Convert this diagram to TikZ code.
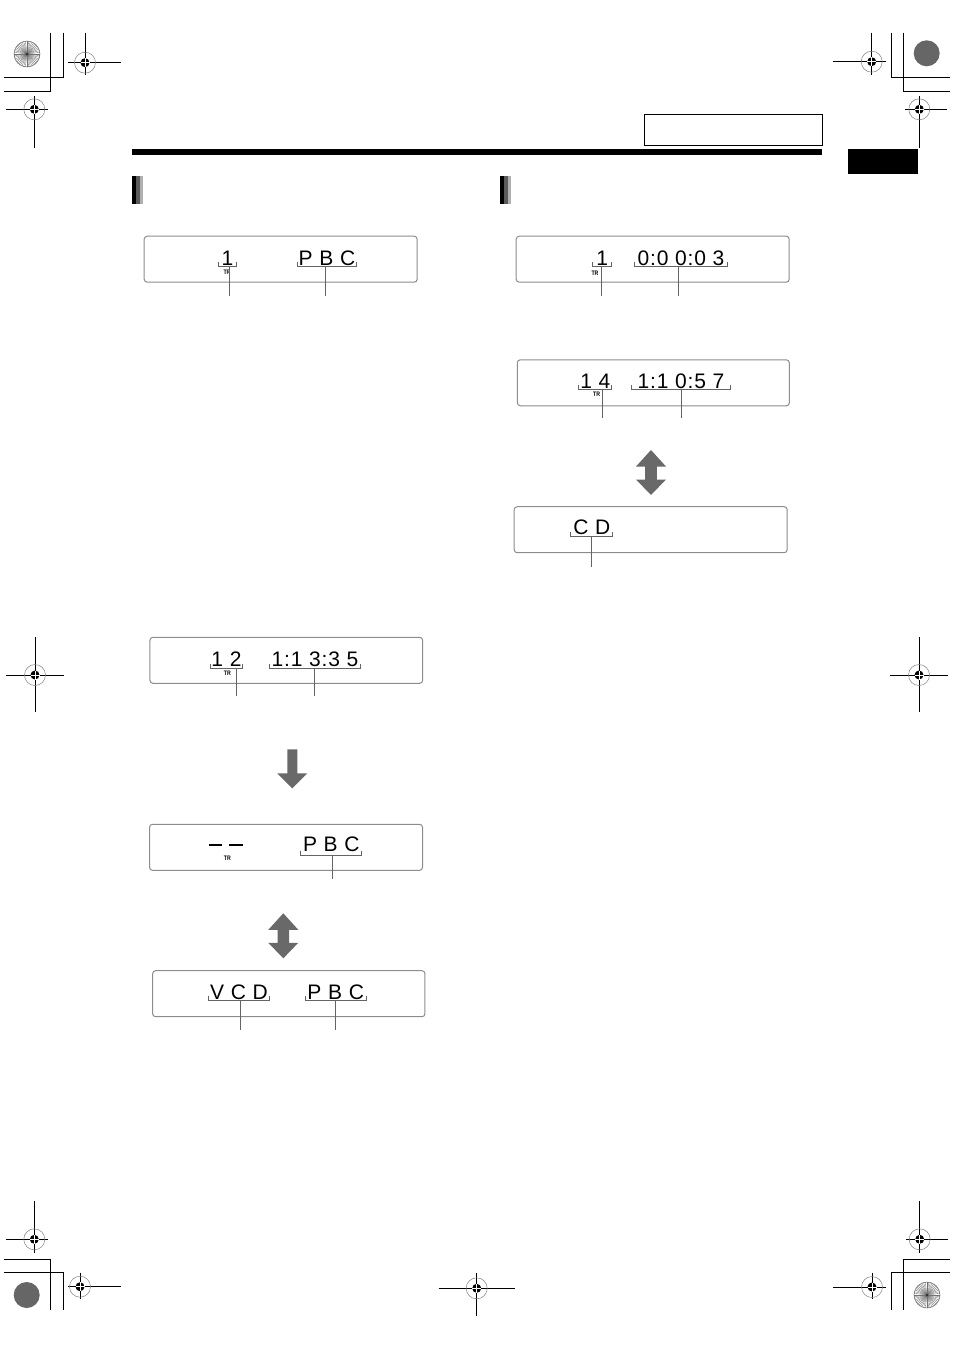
\documentclass[tikz,border=0pt]{standalone}
\usepackage{fontspec}
\usepackage{xcolor}
\usetikzlibrary{positioning}
\newfontfamily\lcdfont[LetterSpace=4]{Liberation Sans}
\newfontfamily\tagfont{Liberation Sans}
\definecolor{lcdframe}{RGB}{140,140,140}
\definecolor{brkgray}{RGB}{100,100,100}
\definecolor{arrowgray}{RGB}{105,105,105}
\definecolor{bargray}{RGB}{90,90,90}
\definecolor{barlight}{RGB}{175,175,175}

\begin{document}
\begin{tikzpicture}[x=1pt,y=-1pt,
        lcd/.style={rectangle,rounded corners=3pt,draw=lcdframe,line width=1pt,
          minimum width=273pt,minimum height=46pt,inner sep=0pt},
        seg/.style={font=\lcdfont\fontsize{21}{21}\selectfont,anchor=base,inner sep=0pt},
        tag/.style={font=\tagfont\bfseries\fontsize{6.5}{6.5}\selectfont,inner sep=0pt,xscale=0.8},
        brk/.style={draw=brkgray,line width=1pt},
        lead/.style={draw=brkgray,line width=0.9pt},
        bigarrow/.style={fill=arrowgray},
        reg/.style={line width=0.8pt}]
        \useasboundingbox (0,0) rectangle (954,1350);

        % printer marks
        \foreach \cx/\cy/\l/\r/\u/\d in {85/62.7/17/36/30/12, 34.3/109.3/28/14/13/39,
            871.7/61.7/39/14/29/13, 919.3/109.3/14/28/13/39, 35/675/29/29/38/37,
            919/675/29/29/38/37, 34.3/1239.3/28/14/38/14, 80/1286.7/12/41/14/12,
            919.7/1239.3/14/28/38/14, 872/1287/39/14/14/12, 476.7/1288.3/38/38/15/28} {
          \draw[reg] (\cx-\l,\cy) -- (\cx+\r,\cy);
          \draw[reg] (\cx,\cy-\u) -- (\cx,\cy+\d);
          \draw[gray,line width=0.5pt] (\cx,\cy) circle[radius=10.5];
          \fill (\cx,\cy) circle[radius=4.5];
          \draw[white,line width=0.5pt] (\cx-4.5,\cy) -- (\cx+4.5,\cy) (\cx,\cy-4.5) -- (\cx,\cy+4.5);
        }
        \draw[reg] (50.7,32.7) -- (50.7,91) -- (4,91);
        \draw[reg] (63,32.7) -- (63,77.3) -- (4,77.3);
        \draw[reg] (903.3,32.7) -- (903.3,91) -- (950,91);
        \draw[reg] (891,32.7) -- (891,77.3) -- (950,77.3);
        \draw[reg] (4,1259.3) -- (50.7,1259.3) -- (50.7,1310);
        \draw[reg] (4,1272) -- (63,1272) -- (63,1310);
        \draw[reg] (950,1259.3) -- (903.3,1259.3) -- (903.3,1310);
        \draw[reg] (950,1272) -- (891,1272) -- (891,1310);
        \foreach \cx/\cy in {27/54, 927/1295} {
          \foreach \a in {0,7.5,...,352.5}
            \draw[black!55,line width=0.35pt] (\cx,\cy) -- ++(\a:13);
          \draw[black!60,line width=0.5pt] (\cx,\cy) circle[radius=13];
          \fill[black!80] (\cx,\cy) circle[radius=1.5];
        }
        \fill[black!60] (926.7,53.3) circle[radius=13];
        \fill[black!60] (26.7,1295) circle[radius=13];

        % header
        \draw[line width=0.8pt] (644,114) rectangle (822,145);
        \fill (132,149) rectangle (822,155);
        \fill (848.3,149) rectangle (917.7,174);
        \foreach \sx in {132,500} {
          \fill (\sx,176) rectangle (\sx+4.3,204);
          \fill[bargray] (\sx+4.3,176) rectangle (\sx+7.5,204);
          \fill[barlight] (\sx+7.5,176) rectangle (\sx+11.3,204);
        }

        % displays
        \node[lcd] (d1) at (280.7,259.2) {};
        \node[lcd] (d2) at (652.7,259.2) {};
        \node[lcd,minimum width=272pt] (d3) at (653.3,382.8) {};
        \node[lcd] (d4) at (650.7,529.7) {};
        \node[lcd,minimum width=272.7pt] (d5) at (286.3,660.3) {};
        \node[lcd] (d6) at (286,847.3) {};
        \node[lcd,minimum width=272.3pt] (d7) at (288.8,993.7) {};

        \node[seg] (d1trk) at (227.5,265) {1};
        \node[seg] (d1pbc) at (327,265) {P B C};
        \node[tag] (d1tr) at (227,272.7) {TR};
        \node[seg] (d2trk) at (602.2,265) {1};
        \node[seg] (d2time) at (681,265) {0:0 0:0 3};
        \node[tag] (d2tr) at (595,273.3) {TR};
        \node[seg] (d3trk) at (595.3,388.3) {1 4};
        \node[seg] (d3time) at (681,388.3) {1:1 0:5 7};
        \node[tag] (d3tr) at (596.7,394.3) {TR};
        \node[seg] (d4cd) at (591.8,534.3) {C D};
        \node[seg] (d5trk) at (226.5,666) {1 2};
        \node[seg] (d5time) at (315,666) {1:1 3:3 5};
        \node[tag] (d5tr) at (227.3,673.3) {TR};
        \draw[line width=2.5pt] (209.3,845) -- (221.7,845) (229.3,845) -- (242.7,845);
        \node[tag] (d6tr) at (227.3,858.3) {TR};
        \node[seg] (d6pbc) at (331.3,851.7) {P B C};
        \node[seg] (d7vcd) at (239,999.3) {V C D};
        \node[seg] (d7pbc) at (335.7,999.3) {P B C};

        % brackets
        \foreach \xa/\xb/\y in {218.3/236.7/266, 297.3/356/266, 592.7/611.7/266, 634/727.3/266,
            578.3/611.7/389.3, 631.7/730/389.3, 570/612.7/536.7, 210/242.7/668.3,
            269.3/360.7/668.3, 300.7/361.7/855, 208.3/269.3/1000.7, 305/366/1000.7}
          \draw[brk] (\xa,\y-4.5) -- (\xa,\y) -- (\xb,\y) -- (\xb,\y-4.5);

        % leaders
        \foreach \n/\x/\ya/\yb in {a/229.3/266/296, b/325/266/296, c/601.7/266/296, d/678.3/266/296,
            e/602.3/389.3/417.7, f/681.7/389.3/417.7, g/591.7/536.7/566.7, h/236.7/668.3/696,
            i/314/668.3/696, j/332.7/855/879.3, k/240/1000.7/1030, l/335/1000.7/1030} {
          \coordinate (b\n) at (\x,\ya);
          \coordinate (e\n) at (\x,\yb);
          \draw[lead] (b\n) -- (e\n);
        }

        % arrows
        \fill[bigarrow] (287.3,749.3) -- (297.3,749.3) -- (297.3,773.3) -- (307.3,773.3)
          -- (292.3,788.3) -- (277.3,773.3) -- (287.3,773.3) -- cycle;
        \foreach \ax/\ay in {651/450, 283.3/913.3}
          \fill[bigarrow] (\ax,\ay) -- (\ax+15,\ay+16.5) -- (\ax+5.8,\ay+16.5) -- (\ax+5.8,\ay+29.5)
            -- (\ax+15,\ay+29.5) -- (\ax,\ay+45) -- (\ax-15,\ay+29.5) -- (\ax-5.8,\ay+29.5)
            -- (\ax-5.8,\ay+16.5) -- (\ax-15,\ay+16.5) -- cycle;
      \end{tikzpicture}
\end{document}
